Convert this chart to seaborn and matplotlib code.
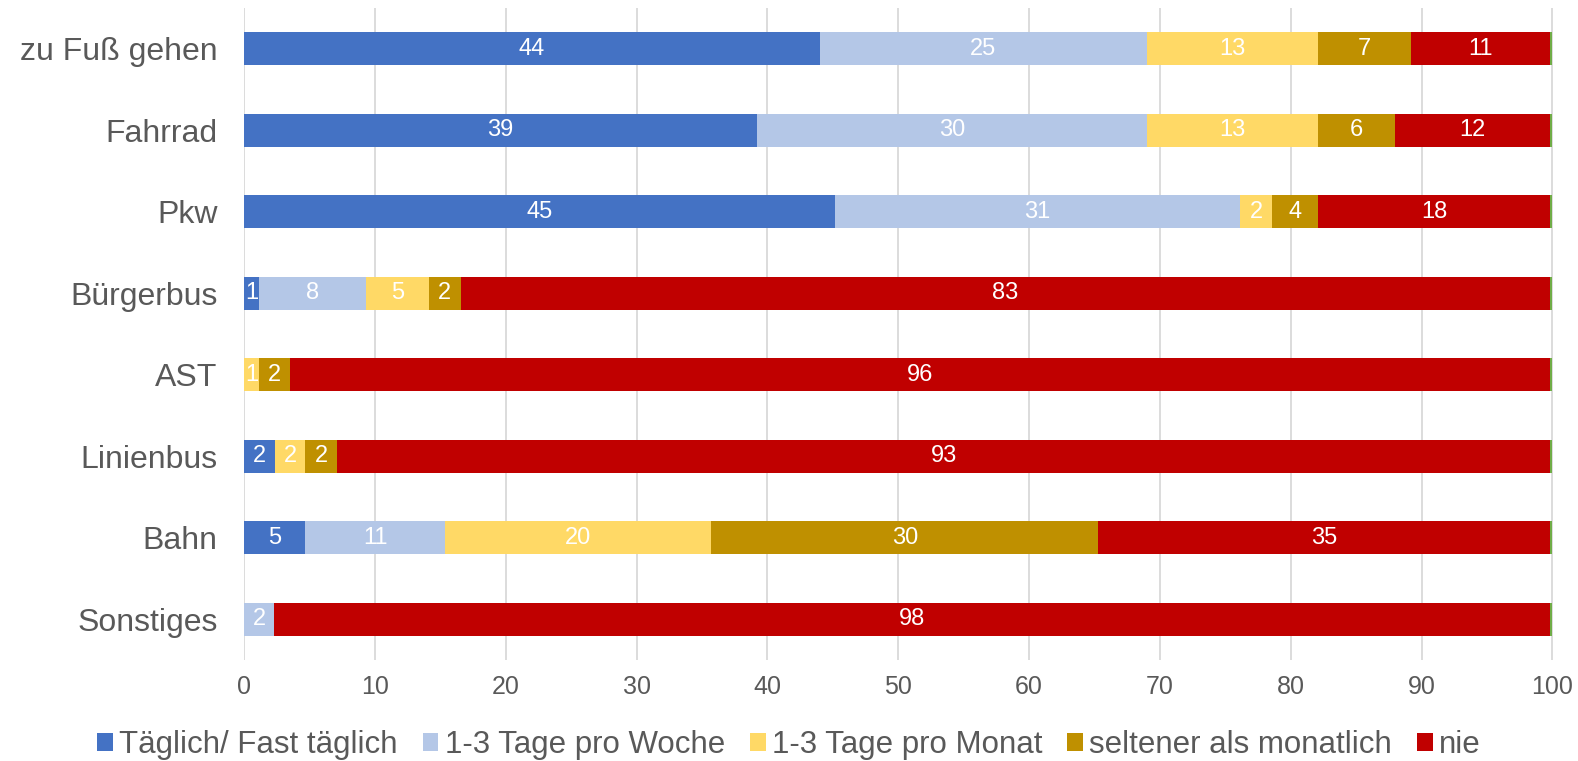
import numpy as np
import pandas as pd
import matplotlib
matplotlib.use("Agg")
import matplotlib.pyplot as plt
from matplotlib.patches import Patch
import seaborn as sns

# Verkehrsmittelnutzung in Prozent
modes = ["zu Fuß gehen", "Fahrrad", "Pkw", "Bürgerbus", "AST", "Linienbus", "Bahn", "Sonstiges"]
series = ["Täglich/ Fast täglich", "1-3 Tage pro Woche", "1-3 Tage pro Monat",
          "seltener als monatlich", "nie", "keine Angabe"]
daily = [44.0, 39.2, 45.2, 1.15, 0.0, 2.4, 4.7, 0.0]
weekly = [25.0, 29.8, 30.9, 8.2, 0.0, 0.0, 10.7, 2.3]
monthly = [13.1, 13.1, 2.5, 4.8, 1.15, 2.3, 20.3, 0.0]
rarely = [7.1, 5.9, 3.5, 2.4, 2.4, 2.4, 29.6, 0.0]
never = [10.65, 11.85, 17.75, 83.3, 96.3, 92.75, 34.55, 97.55]
no_answer = [0.15, 0.15, 0.15, 0.15, 0.15, 0.15, 0.15, 0.15]

colors = ["#4472C4", "#B4C7E7", "#FFD966", "#BF9000", "#C00000", "#70AD47"]

df = pd.DataFrame(dict(zip(series, [daily, weekly, monthly, rarely, never, no_answer])), index=modes)
cum = df.cumsum(axis=1)

sns.set_style("white")
plt.rcParams['font.family'] = ['Liberation Sans', 'DejaVu Sans']

fig = plt.figure(figsize=(15.78, 7.61), dpi=100)
ax = fig.add_axes([244 / 1578, 1 - 660 / 761, 1309 / 1578, 652 / 761])

# stacked bars: draw cumulative totals from last to first
for s, c in reversed(list(zip(series, colors))):
    sns.barplot(x=cum[s].values, y=modes, color=c, orient="h", width=0.40,
                saturation=1, ax=ax, zorder=2, linewidth=0)

# value labels
for i, m in enumerate(modes):
    for s in series[:-1]:
        v = df.loc[m, s]
        if v < 0.5:
            continue
        center = cum.loc[m, s] - v / 2
        ax.text(center, i, "{0:.0f}".format(v), ha="center", va="center",
                color="white", fontsize=17, zorder=3)

ax.set_xlim(0, 100.05)
ax.set_ylim(7.5, -0.5)
ax.set_xticks(range(0, 101, 10))
ax.grid(axis="x", color="#D9D9D9", linewidth=1.3, zorder=0)
ax.set_axisbelow(True)
for sp in ax.spines.values():
    sp.set_visible(False)
ax.tick_params(axis="x", labelsize=18, labelcolor="#595959", length=0, pad=11)
ax.tick_params(axis="y", labelsize=23, labelcolor="#595959", length=0, pad=19)
ax.set_xlabel("")
ax.set_ylabel("")

handles = [Patch(facecolor=c, edgecolor="none", label=s) for s, c in zip(series[:-1], colors[:-1])]
fig.legend(handles=handles, loc="center", bbox_to_anchor=(0.5, 1 - 745 / 761), ncol=5,
           frameon=False, fontsize=22.5, labelcolor="#595959", handlelength=0.5,
           handleheight=0.5, handletextpad=0.2, columnspacing=0.8)

fig.savefig("out.png", dpi=100)
